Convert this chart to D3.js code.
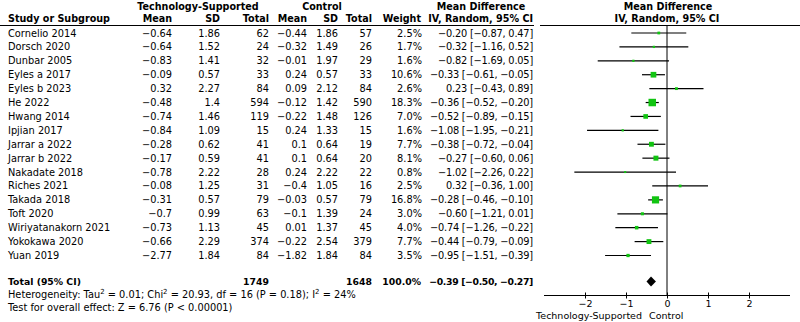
<!DOCTYPE html>
<html><head><meta charset="utf-8">
<script src="https://cdn.jsdelivr.net/npm/d3@7/dist/d3.min.js"></script>
<style>
body{margin:0;background:#fff;}
svg text{font-family:"DejaVu Sans",sans-serif;font-size:9.8px;fill:#000;}
svg .b text, svg text.b{font-weight:bold;font-size:9.3px;}
svg .h text{font-size:9.6px;}
svg text.ci{letter-spacing:-0.2px;}
svg .b text.ci{letter-spacing:-0.35px;}
</style></head>
<body><svg id="c" width="800" height="322"></svg>
<script>
const studies = ["Cornelio 2014","Dorsch 2020","Dunbar 2005","Eyles a 2017","Eyles b 2023","He 2022","Hwang 2014","Ipjian 2017","Jarrar a 2022","Jarrar b 2022","Nakadate 2018","Riches 2021","Takada 2018","Toft 2020","Wiriyatanakorn 2021","Yokokawa 2020","Yuan 2019"];
const techMean = [-0.64,-0.64,-0.83,-0.09,0.32,-0.48,-0.74,-0.84,-0.28,-0.17,-0.78,-0.08,-0.31,-0.7,-0.73,-0.66,-2.77];
const techSD = [1.86,1.52,1.41,0.57,2.27,1.4,1.46,1.09,0.62,0.59,2.22,1.25,0.57,0.99,1.13,2.29,1.84];
const techN = [62,24,32,33,84,594,119,15,41,41,28,31,79,63,45,374,84];
const ctrlMean = [-0.44,-0.32,-0.01,0.24,0.09,-0.12,-0.22,0.24,0.1,0.1,0.24,-0.4,-0.03,-0.1,0.01,-0.22,-1.82];
const ctrlSD = [1.86,1.49,1.97,0.57,2.12,1.42,1.48,1.33,0.64,0.64,2.22,1.05,0.57,1.39,1.37,2.54,1.84];
const ctrlN = [57,26,29,33,84,590,126,15,19,20,22,16,79,24,45,379,84];
const weight = [2.5,1.7,1.6,10.6,2.6,18.3,7.0,1.6,7.7,8.1,0.8,2.5,16.8,3.0,4.0,7.7,3.5];
const md = [-0.20,-0.32,-0.82,-0.33,0.23,-0.36,-0.52,-1.08,-0.38,-0.27,-1.02,0.32,-0.28,-0.60,-0.74,-0.44,-0.95];
const lo = [-0.87,-1.16,-1.69,-0.61,-0.43,-0.52,-0.89,-1.95,-0.72,-0.60,-2.26,-0.36,-0.46,-1.21,-1.26,-0.79,-1.51];
const hi = [0.47,0.52,0.05,-0.05,0.89,-0.20,-0.15,-0.21,-0.04,0.06,0.22,1.00,-0.10,0.01,-0.22,-0.09,-0.39];
const total = {techN:1749, ctrlN:1648, weight:100.0, md:-0.39, lo:-0.50, hi:-0.27};
const axisTicks = [-2,-1,0,1,2];
const axisDomain = [-3,3];

const svg = d3.select("#c");
const minus = s => String(s).replace(/-/g,"\u2212");
const f2 = v => minus(v.toFixed(2));

const x = d3.scaleLinear().domain(axisDomain).range([544,790]);
const y = d3.scaleLinear().domain([0,studies.length-1]).range([33,255.5]);
const yTotal = 281.5;

// headers
const hdr = svg.append("g").attr("class","b h");
hdr.append("text").attr("x",198).attr("y",9.5).attr("text-anchor","middle").text("Technology-Supported");
hdr.append("text").attr("x",322).attr("y",9.5).attr("text-anchor","middle").text("Control");
hdr.append("text").attr("x",481).attr("y",9.5).attr("text-anchor","middle").text("Mean Difference");
hdr.append("text").attr("x",668).attr("y",9.5).attr("text-anchor","middle").text("Mean Difference");
hdr.append("text").attr("x",8).attr("y",21.5).text("Study or Subgroup");
const cols = [["Mean",172],["SD",220],["Total",269],["Mean",307],["SD",338],["Total",372],["Weight",421],["IV, Random, 95% CI",533]];
cols.forEach(([t,xx])=>hdr.append("text").attr("x",xx).attr("y",21.5).attr("text-anchor","end").text(t));
hdr.append("text").attr("x",667).attr("y",21.5).attr("text-anchor","middle").text("IV, Random, 95% CI");
svg.append("line").attr("x1",0).attr("x2",534).attr("y1",25.5).attr("y2",25.5).attr("stroke","#000");
svg.append("line").attr("x1",540).attr("x2",800).attr("y1",25.5).attr("y2",25.5).attr("stroke","#000");

// rows
const rows = svg.append("g");
studies.forEach((s,i)=>{
  const yy = y(i)+3.5;
  rows.append("text").attr("x",8).attr("y",yy).text(s);
  const vals = [[minus(techMean[i]),172],[minus(techSD[i]),220],[techN[i],269],[minus(ctrlMean[i]),307],[minus(ctrlSD[i]),338],[ctrlN[i],372],[weight[i].toFixed(1)+"%",422]];
  vals.forEach(([t,xx])=>rows.append("text").attr("x",xx).attr("y",yy).attr("text-anchor","end").text(t));
  rows.append("text").attr("class","ci").attr("x",533).attr("y",yy).attr("text-anchor","end")
    .text(`${f2(md[i])} [${f2(lo[i])}, ${f2(hi[i])}]`);
});
// totals
const tg = svg.append("g").attr("class","b");
const ty = yTotal+3.5;
tg.append("text").attr("x",8).attr("y",ty).text("Total (95% CI)");
[[total.techN,269],[total.ctrlN,372],[total.weight.toFixed(1)+"%",421]]
  .forEach(([t,xx])=>tg.append("text").attr("x",xx).attr("y",ty).attr("text-anchor","end").text(t));
tg.append("text").attr("class","ci").attr("x",533).attr("y",ty).attr("text-anchor","end")
  .text(`${f2(total.md)} [${f2(total.lo)}, ${f2(total.hi)}]`);

const het = svg.append("text").attr("x",8).attr("y",297.5);
het.append("tspan").text("Heterogeneity: Tau");
het.append("tspan").attr("dy",-4).style("font-size","7px").text("2");
het.append("tspan").attr("dy",4).text(" = 0.01; Chi");
het.append("tspan").attr("dy",-4).style("font-size","7px").text("2");
het.append("tspan").attr("dy",4).text(" = 20.93, df = 16 (P = 0.18); I");
het.append("tspan").attr("dy",-4).style("font-size","7px").text("2");
het.append("tspan").attr("dy",4).text(" = 24%");
svg.append("text").attr("x",8).attr("y",310.5).text("Test for overall effect: Z = 6.76 (P < 0.00001)");

// plot
const plot = svg.append("g");
plot.append("line").attr("x1",x(0)).attr("x2",x(0)).attr("y1",25.5).attr("y2",296).attr("stroke","#000");
studies.forEach((s,i)=>{
  plot.append("line").attr("x1",x(lo[i])).attr("x2",x(hi[i])).attr("y1",y(i)).attr("y2",y(i)).attr("stroke","#000").attr("stroke-width",1.2);
  const sz = Math.max(2, Math.sqrt(weight[i])*1.75);
  plot.append("rect").attr("x",x(md[i])-sz/2).attr("y",y(i)-sz/2).attr("width",sz).attr("height",sz).attr("fill","#11c411");
});
const dh = 5;
plot.append("path").attr("d",`M${x(total.lo)},${yTotal}L${x(total.md)},${yTotal-dh}L${x(total.hi)},${yTotal}L${x(total.md)},${yTotal+dh}Z`).attr("fill","#000");

const ax = svg.append("g").attr("transform","translate(0,295.5)")
  .call(d3.axisBottom(x).tickValues(axisTicks).tickSize(3).tickFormat(d=>minus(d)).tickPadding(0));
ax.select(".domain").attr("d",`M${x(axisDomain[0])},0H${x(axisDomain[1])}`).attr("stroke","#000");
ax.selectAll(".tick line").attr("y1",-3).attr("y2",3).attr("stroke","#000");
ax.selectAll(".tick text").attr("dy",null).attr("y",11.5).style("font-family","DejaVu Sans").style("font-size","9.5px").attr("fill","#000");
svg.append("text").attr("x",642).attr("y",318.5).attr("text-anchor","end").style("font-size","9.5px").text("Technology-Supported");
svg.append("text").attr("x",649).attr("y",318.5).style("font-size","9.5px").text("Control");
</script></body></html>
